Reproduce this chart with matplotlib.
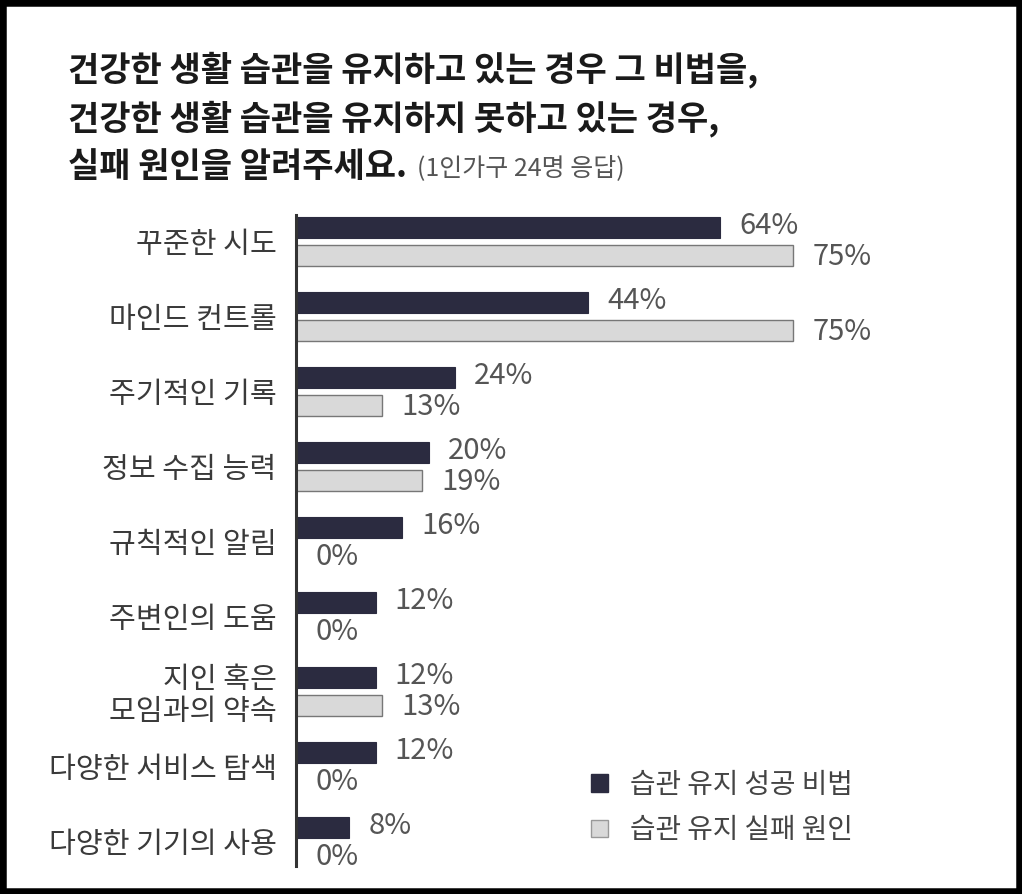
import matplotlib
matplotlib.use("Agg")
import matplotlib.pyplot as plt
from matplotlib.patches import Rectangle, Patch
import numpy as np

plt.rcParams['font.family'] = ['Noto Sans CJK KR', 'DejaVu Sans']

categories = ["꾸준한 시도", "마인드 컨트롤", "주기적인 기록", "정보 수집 능력", "규칙적인 알림",
              "주변인의 도움", "지인 혹은\n모임과의 약속", "다양한 서비스 탐색", "다양한 기기의 사용"]
success = [64, 44, 24, 20, 16, 12, 12, 12, 8]
failure = [75, 75, 13, 19, 0, 0, 13, 0, 0]
series_names = ["습관 유지 성공 비법", "습관 유지 실패 원인"]

title_lines = ["건강한 생활 습관을 유지하고 있는 경우 그 비법을,",
               "건강한 생활 습관을 유지하지 못하고 있는 경우,",
               "실패 원인을 알려주세요."]
subtitle = "(1인가구 24명 응답)"

dark = "#2b2b40"
light = "#d9d9d9"

W, H = 1022, 894
fig = plt.figure(figsize=(W/100, H/100), dpi=100)

ax_left, ax_right = 296, 1000
ax_top, ax_bot = 215, 866
ax = fig.add_axes([ax_left/W, 1-ax_bot/H, (ax_right-ax_left)/W, (ax_bot-ax_top)/H])

y = np.arange(len(categories))
h = 0.28
off = 0.185
ax.barh(y - off, success, height=h, color=dark, edgecolor=dark, linewidth=0.8)
ax.barh(y + off, failure, height=h, color=light, edgecolor="#777777", linewidth=1.0)

ax.set_xlim(0, 106.2)
ax.set_ylim(8.33, -0.35)

for s in ["top", "right", "bottom"]:
    ax.spines[s].set_visible(False)
ax.spines["left"].set_linewidth(2.2)
ax.spines["left"].set_color("#333333")
ax.set_xticks([])
ax.set_yticks(y)
ax.set_yticklabels(categories, fontsize=21, color="#3a3a3a", linespacing=1.1)
ax.tick_params(axis="y", length=0, pad=14)

for i, (s, f) in enumerate(zip(success, failure)):
    ax.text(s + 2.9, i - off - 0.02, f"{s}%", va="center", ha="left", fontsize=21, color="#555555")
    ax.text(f + 2.9, i + off + 0.03, f"{f}%", va="center", ha="left", fontsize=21, color="#555555")

# title
ty = [70, 119, 166]
for i, line in enumerate(title_lines):
    t = fig.text(68/W, 1 - ty[i]/H, line, fontsize=24.5, fontweight="bold", color="#1a1a1a",
                 va="center", ha="left")
fig.canvas.draw()
bb = t.get_window_extent()
fig.text((bb.x1 + 10)/W, 1 - 168/H, subtitle, fontsize=18, color="#555555", va="center", ha="left")

# legend
handles = [Patch(facecolor=dark, edgecolor=dark), Patch(facecolor=light, edgecolor="#999999")]
leg = fig.legend(handles, series_names, loc="upper left", bbox_to_anchor=(566/W, 1 - 745/H),
                 frameon=False, fontsize=20, handlelength=0.6, handleheight=0.6,
                 handletextpad=0.8, labelspacing=0.55, labelcolor="#444444")

# border
fig.patches.append(Rectangle((0, 0), 1, 1, transform=fig.transFigure, fill=False,
                             edgecolor="black", linewidth=9))

fig.savefig("out.png", dpi=100)
